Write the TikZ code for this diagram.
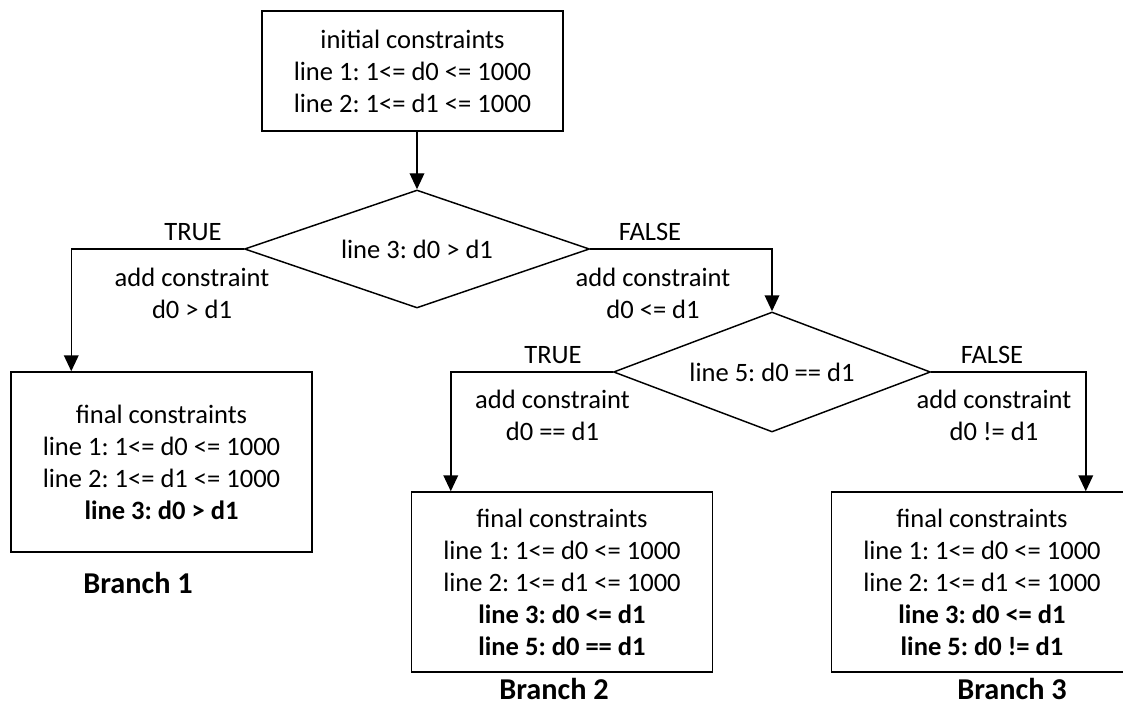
\documentclass[tikz,border=0pt]{standalone}
\usepackage{fontspec}
\setmainfont{Carlito}
\usetikzlibrary{shapes.geometric,arrows.meta}
\frenchspacing
\begin{document}
\begin{tikzpicture}[x=0.75pt,y=-0.75pt,
  every node/.style={font=\frenchspacing\fontsize{19.9}{24}\selectfont, inner sep=0pt},
  box/.style={draw, line width=1.1pt, minimum width=225.75pt, minimum height=135pt, align=center},
  topbox/.style={box, minimum height=90pt},
  dia/.style={draw, diamond, line width=1.1pt, inner sep=0pt, aspect=3},
  lbl/.style={align=center},
  brlbl/.style={font=\fontsize{22.7}{27}\selectfont\bfseries},
  arr/.style={line width=1.1pt, -{Triangle[width=11pt,length=12pt]}},
  conn/.style={line width=1.1pt}]
\useasboundingbox (0,0) rectangle (1123,709);

% nodes
\node[topbox] (top) at (412.5,71) {initial constraints\\line 1: 1<= d0 <= 1000\\line 2: 1<= d1 <= 1000};
\node[dia, minimum width=258.75pt, minimum height=88.5pt] (d1) at (417,249) {line 3: d0 > d1};
\node[dia, minimum width=237.75pt, minimum height=90pt] (d2) at (772,372) {line 5: d0 == d1};

\node[box] (b1) at (161.5,462) {final constraints\\line 1: 1<= d0 <= 1000\\line 2: 1<= d1 <= 1000\\\textbf{line 3: d0 > d1}};
\node[box] (b2) at (562,582) {final constraints\\line 1: 1<= d0 <= 1000\\line 2: 1<= d1 <= 1000\\\textbf{line 3: d0 <= d1}\\\textbf{line 5: d0 == d1}};
\node[box] (b3) at (982,582) {final constraints\\line 1: 1<= d0 <= 1000\\line 2: 1<= d1 <= 1000\\\textbf{line 3: d0 <= d1}\\\textbf{line 5: d0 != d1}};

% labels
\node (t1) at (193,232) {TRUE};
\node[lbl] (a1) at (192,293) {add constraint\\d0 > d1};
\node (f1) at (650,232) {FALSE};
\node[lbl] (a2) at (653,293) {add constraint\\d0 <= d1};
\node (t2) at (553,355) {TRUE};
\node[lbl] (a3) at (552.5,415) {add constraint\\d0 == d1};
\node (f2) at (992,355) {FALSE};
\node[lbl] (a4) at (994,415) {add constraint\\d0 != d1};

\node[brlbl] (br1) at (138,583) {Branch 1};
\node[brlbl] (br2) at (554,689) {Branch 2};
\node[brlbl] (br3) at (1012,689) {Branch 3};

% connectors
\draw[arr] (d1.north |- top.south) -- (d1.north);
\draw[arr] (d1.west) -| ([xshift=45.75pt]b1.north west);
\draw[arr] (d1.east) -| (d2.north);
\draw[arr] (d2.west) -| ([xshift=30pt]b2.north west);
\draw[arr] (d2.east) -| ([xshift=191.25pt]b3.north west);
\end{tikzpicture}
\end{document}
